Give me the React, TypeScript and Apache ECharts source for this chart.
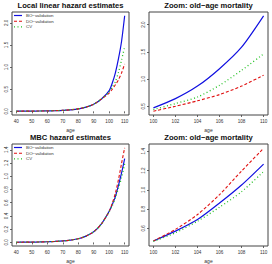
import React, { useEffect, useRef } from "react";
import * as echarts from "echarts";

const ages = [40, 45, 50, 55, 60, 65, 70, 75, 80, 85, 90, 95, 100, 102, 104, 106, 108, 110];
const low = [0.003, 0.004, 0.005, 0.007, 0.01, 0.015, 0.022, 0.035, 0.055, 0.095, 0.16, 0.28];
const llBO = [...low, 0.47, 0.64, 0.87, 1.19, 1.585, 2.16];
const llDO = [...low, 0.41, 0.5, 0.6, 0.715, 0.87, 1.07];
const llCV = [...low, 0.44, 0.55, 0.67, 0.885, 1.16, 1.46];
const mbcBO = [...low, 0.47, 0.572, 0.692, 0.863, 1.05, 1.267];
const mbcDO = [...low, 0.47, 0.59, 0.744, 0.95, 1.195, 1.43];
const mbcCV = [...low, 0.465, 0.555, 0.675, 0.82, 0.98, 1.19];

const titles = [
  "Local linear hazard estimates",
  "Zoom: old\u2212age mortality",
  "MBC hazard estimates",
  "Zoom: old\u2212age mortality",
];
const seriesNames = ["BO\u2212validation", "DO\u2212validation", "CV"];
const xTicksFull = [40, 50, 60, 70, 80, 90, 100, 110];
const xTicksZoom = [100, 102, 104, 106, 108, 110];
const yTicks1 = [0, 0.5, 1.0, 1.5, 2.0];
const yTicks2 = [0.5, 1.0, 1.5, 2.0];
const yTicks3 = [0, 0.2, 0.4, 0.6, 0.8, 1.0, 1.2, 1.4];
const yTicks4 = [0.6, 0.8, 1.0, 1.2, 1.4];

const FONT = "'Liberation Sans', Arial, sans-serif";
const COLORS = ["#1010e0", "#e01010", "#20c020"];
const STYLES: any[] = ["solid", [3, 2], [1, 2.5]];
const WIDTHS = [1.2, 1.1, 1.3];

export default function App() {
  const ref = useRef<HTMLDivElement>(null);
  useEffect(() => {
    if (!ref.current) return;
    const chart = echarts.init(ref.current, undefined, { renderer: "svg" });

    const panels = [
      { left: 12, top: 12, w: 117, h: 103, xmin: 37.2, xmax: 112.8, ymin: -0.083, ymax: 2.246, xt: xTicksFull, yt: yTicks1, zoom: false, data: [llBO, llDO, llCV] },
      { left: 149, top: 12, w: 119, h: 103, xmin: 99.6, xmax: 110.4, ymin: 0.34, ymax: 2.23, xt: xTicksZoom, yt: yTicks2, zoom: true, data: [llBO, llDO, llCV] },
      { left: 12, top: 144, w: 117, h: 103, xmin: 37.2, xmax: 112.8, ymin: -0.054, ymax: 1.487, xt: xTicksFull, yt: yTicks3, zoom: false, data: [mbcBO, mbcDO, mbcCV] },
      { left: 149, top: 144, w: 119, h: 103, xmin: 99.6, xmax: 110.4, ymin: 0.418, ymax: 1.475, xt: xTicksZoom, yt: yTicks4, zoom: true, data: [mbcBO, mbcDO, mbcCV] },
    ];

    const grid = panels.map((p) => ({
      left: p.left, top: p.top, width: p.w, height: p.h,
      show: true, borderColor: "#444", borderWidth: 1, backgroundColor: "transparent",
    }));

    const xAxis = panels.map((p, i) => ({
      type: "value", gridIndex: i, min: p.xmin, max: p.xmax,
      name: "age", nameLocation: "middle", nameGap: 12,
      nameTextStyle: { fontFamily: FONT, fontSize: 5, color: "#333" },
      axisLine: { show: false },
      splitLine: { show: false },
      axisTick: { show: true, inside: false, length: 2, customValues: p.xt, lineStyle: { color: "#444", width: 0.8 } },
      axisLabel: { show: true, customValues: p.xt, margin: 3.5, fontFamily: FONT, fontSize: 4.6, color: "#333", formatter: (v: number) => String(Math.round(v)) },
    }));

    const yAxis = panels.map((p, i) => ({
      type: "value", gridIndex: i, min: p.ymin, max: p.ymax,
      axisLine: { show: false },
      splitLine: { show: false },
      axisTick: { show: true, inside: false, length: 2, customValues: p.yt, lineStyle: { color: "#444", width: 0.8 } },
      axisLabel: { show: true, customValues: p.yt, rotate: 90, margin: 3, fontFamily: FONT, fontSize: 4.6, color: "#333", formatter: (v: number) => v.toFixed(1) },
    }));

    const series: any[] = [];
    panels.forEach((p, i) => {
      p.data.forEach((vals, k) => {
        const pts = ages
          .map((a, j) => [a, vals[j]])
          .filter((d) => !p.zoom || d[0] >= 100);
        series.push({
          type: "line", name: seriesNames[k], xAxisIndex: i, yAxisIndex: i,
          data: pts, showSymbol: false, symbol: "none",
          smooth: 0.25,
          lineStyle: { color: COLORS[k], width: WIDTHS[k], type: STYLES[k] },
          silent: true,
        });
      });
    });

    const graphic: any[] = [];
    panels.forEach((p, i) => {
      graphic.push({
        type: "text", x: p.left + p.w / 2, y: p.top - 6.5,
        style: { text: titles[i], fontFamily: FONT, fontSize: 7.6, fontWeight: "bold", fill: "#111", textAlign: "center", textVerticalAlign: "middle" },
      });
    });
    [12, 144].forEach((top) => {
      seriesNames.forEach((nm, k) => {
        const y = top + 3.5 + k * 5.7;
        graphic.push({
          type: "line", shape: { x1: 14, y1: y, x2: 22, y2: y },
          style: { stroke: COLORS[k], lineWidth: WIDTHS[k], lineDash: k === 0 ? null : STYLES[k] },
        });
        graphic.push({
          type: "text", x: 26, y,
          style: { text: nm, fontFamily: FONT, fontSize: 4.4, fill: "#333", textAlign: "left", textVerticalAlign: "middle" },
        });
      });
    });

    chart.setOption({
      animation: false,
      backgroundColor: "#fff",
      grid, xAxis, yAxis, series, graphic,
    });
    return () => chart.dispose();
  }, []);
  return <div ref={ref} style={{ position: "fixed", left: 0, top: 0, width: 272, height: 264 }} />;
}
